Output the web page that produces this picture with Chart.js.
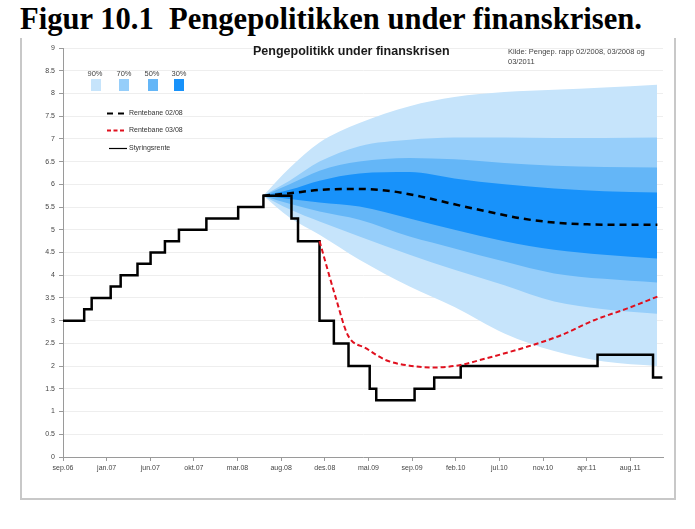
<!DOCTYPE html>
<html>
<head>
<meta charset="utf-8">
<script src="https://cdn.jsdelivr.net/npm/chart.js@4/dist/chart.umd.min.js"></script>
<style>
  body { margin: 0; background: #fff; width: 695px; height: 529px; position: relative; overflow: hidden; font-family: "Liberation Sans", Arial, sans-serif; }
  #fig { position: absolute; left: 20px; top: 4px; font: bold 30.6px/30px "Liberation Serif", "Times New Roman", serif; color: #000; white-space: pre; }
  #frame { position: absolute; left: 20px; top: 38px; width: 652px; height: 460px; border: 2px solid #c8c8c8; border-top: none; background: #fff; }
  #chart { position: absolute; left: 0; top: 0; }
  .txt { position: absolute; white-space: pre; color: #333; }
  #ctitle { left: 253px; top: 44px; font-size: 12.5px; font-weight: bold; color: #1a1a1a; }
  #source { left: 508px; top: 47px; font-size: 7.5px; line-height: 9.5px; color: #444; }
  .pct { font-size: 7.5px; top: 69px; transform: translateX(-50%); color: #444; }
  .box { position: absolute; top: 79px; height: 12px; }
  .lg { font-size: 7px; left: 129px; color: #333; }
  svg { position: absolute; left: 0; top: 0; }
</style>
</head>
<body>
<div id="fig">Figur 10.1  Pengepolitikken under finanskrisen.</div>
<div id="frame"></div>
<canvas id="chart" width="695" height="529"></canvas>
<div class="txt" id="ctitle">Pengepolitikk under finanskrisen</div>
<div class="txt" id="source">Kilde: Pengep. rapp 02/2008, 03/2008 og
03/2011</div>
<div class="txt pct" style="left:95px">90%</div>
<div class="txt pct" style="left:124px">70%</div>
<div class="txt pct" style="left:152px">50%</div>
<div class="txt pct" style="left:179px">30%</div>
<div class="box" style="left:91px;width:10px;background:rgb(198,228,251)"></div>
<div class="box" style="left:119px;width:10px;background:rgb(150,206,250)"></div>
<div class="box" style="left:148px;width:10px;background:rgb(100,182,247)"></div>
<div class="box" style="left:174px;width:10px;background:rgb(24,146,250)"></div>
<svg width="695" height="529">
  <line x1="107" y1="113.5" x2="126" y2="113.5" stroke="#000" stroke-width="2" stroke-dasharray="6,5"/>
  <line x1="107" y1="130.5" x2="126" y2="130.5" stroke="#e0101e" stroke-width="2" stroke-dasharray="4,2.5"/>
  <line x1="109" y1="148.5" x2="127" y2="148.5" stroke="#000" stroke-width="1.2"/>
</svg>
<div class="txt lg" style="top:109px">Rentebane 02/08</div>
<div class="txt lg" style="top:126px">Rentebane 03/08</div>
<div class="txt lg" style="top:144px">Styringsrente</div>
<script>
// x = dager etter 1. sep 2006
const tickLabels = ['sep.06', 'jan.07', 'jun.07', 'okt.07', 'mar.08', 'aug.08', 'des.08',
  'mai.09', 'sep.09', 'feb.10', 'jul.10', 'nov.10', 'apr.11', 'aug.11'];
const tickDays = tickLabels.map((l, i) => i * 140);

// Styringsrente (trappetrinn)
const rateDays = [0, 68, 92, 153, 185, 239, 281, 327, 372, 460, 562, 643, 733, 754, 823,
  869, 916, 984, 1005, 1128, 1191, 1276, 1715, 1893, 1923];
const rateValues = [3, 3.25, 3.5, 3.75, 4, 4.25, 4.5, 4.75, 5, 5.25, 5.5, 5.75, 5.25, 4.75, 3,
  2.5, 2, 1.5, 1.25, 1.5, 1.75, 2, 2.25, 1.75, 1.75];

// Rentebane 02/08
const path0208Days = [642, 722, 829, 935, 1042, 1149, 1256, 1363, 1470, 1576, 1683, 1790, 1907];
const path0208 = [5.75, 5.80, 5.88, 5.90, 5.86, 5.73, 5.56, 5.40, 5.25, 5.16, 5.12, 5.11, 5.11];

// Rentebane 03/08
const path0308Days = [823, 877, 914, 973, 1037, 1112, 1186, 1272, 1336, 1491, 1598, 1704, 1811, 1907];
const path0308 = [4.75, 3.46, 2.68, 2.39, 2.13, 2.01, 1.97, 2.02, 2.13, 2.43, 2.68, 3.01, 3.27, 3.53];

// Usikkerhetsvifte 02/08
const fanDays = [642, 727, 823, 951, 1112, 1256, 1416, 1576, 1736, 1906];
const upper90 = [5.75, 6.36, 6.92, 7.35, 7.72, 7.92, 8.03, 8.08, 8.13, 8.19];
const upper70 = [5.75, 6.08, 6.50, 6.84, 6.98, 7.03, 7.03, 7.02, 7.02, 7.03];
const upper50 = [5.75, 6.00, 6.30, 6.50, 6.58, 6.55, 6.47, 6.41, 6.38, 6.37];
const upper30 = [5.75, 5.88, 6.08, 6.24, 6.27, 6.13, 6.00, 5.91, 5.85, 5.82];
const lower30 = [5.75, 5.68, 5.60, 5.51, 5.25, 5.00, 4.75, 4.56, 4.45, 4.37];
const lower50 = [5.75, 5.57, 5.40, 5.22, 4.85, 4.59, 4.30, 4.04, 3.92, 3.84];
const lower70 = [5.75, 5.45, 5.18, 4.85, 4.45, 4.12, 3.78, 3.42, 3.25, 3.15];
const lower90 = [5.75, 5.27, 4.89, 4.34, 3.75, 3.30, 2.72, 2.33, 2.10, 2.00];

const pts = (xs, ys) => xs.map((x, i) => ({ x: x, y: ys[i] }));

function band(upper, lower, color, order) {
  return [
    { data: pts(fanDays, upper), fill: '+1', backgroundColor: color, borderWidth: 0, pointRadius: 0,
      cubicInterpolationMode: 'monotone', order: order },
    { data: pts(fanDays, lower), fill: false, borderWidth: 0, pointRadius: 0,
      cubicInterpolationMode: 'monotone', order: order }
  ];
}

new Chart(document.getElementById('chart'), {
  type: 'line',
  data: {
    datasets: [
      ...band(upper30, lower30, 'rgb(24,146,250)', 1),
      ...band(upper50, lower50, 'rgb(100,182,247)', 2),
      ...band(upper70, lower70, 'rgb(150,206,250)', 3),
      ...band(upper90, lower90, 'rgb(198,228,251)', 4),
      { label: 'Rentebane 02/08', data: pts(path0208Days, path0208), borderColor: '#000', borderWidth: 2.5,
        borderDash: [7, 5], pointRadius: 0, fill: false, cubicInterpolationMode: 'monotone', order: 0 },
      { label: 'Rentebane 03/08', data: pts(path0308Days, path0308), borderColor: '#e0101e', borderWidth: 2,
        borderDash: [5, 3], pointRadius: 0, fill: false, cubicInterpolationMode: 'monotone', order: 0 },
      { label: 'Styringsrente', data: pts(rateDays, rateValues), borderColor: '#000', borderWidth: 2.5,
        stepped: true, pointRadius: 0, fill: false, order: 0 }
    ]
  },
  options: {
    responsive: false,
    animation: false,
    layout: { padding: { top: 48, right: 32, bottom: 42, left: 0 } },
    plugins: { legend: { display: false }, tooltip: { enabled: false } },
    scales: {
      x: {
        type: 'linear',
        min: 0,
        max: 1925,
        afterFit: (s) => { s.height = 30; },
        afterBuildTicks: (s) => { s.ticks = tickDays.map(v => ({ value: v })); },
        ticks: {
          autoSkip: false, maxRotation: 0, padding: 3, color: '#444',
          font: { family: 'Liberation Sans', size: 7 },
          callback: (v) => tickLabels[tickDays.indexOf(v)]
        },
        grid: { drawOnChartArea: false, drawTicks: true, tickLength: 4, tickColor: '#9a9a9a' },
        border: { color: '#9a9a9a', width: 1 }
      },
      y: {
        min: 0,
        max: 9,
        afterFit: (s) => { s.width = 63; },
        ticks: {
          stepSize: 0.5, padding: 4, color: '#444',
          font: { family: 'Liberation Sans', size: 7 },
          callback: (v) => String(v)
        },
        grid: { color: '#eeeeee', tickLength: 4, tickColor: '#9a9a9a' },
        border: { color: '#9a9a9a', width: 1 }
      }
    }
  }
});
</script>
</body>
</html>
